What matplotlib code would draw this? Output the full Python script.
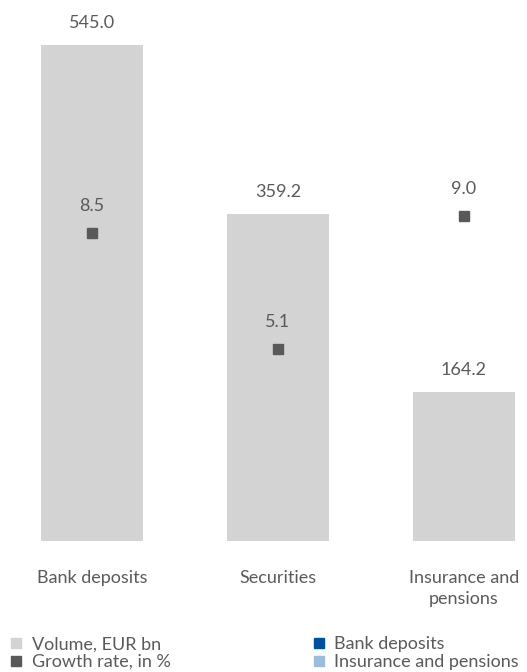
import matplotlib.pyplot as plt
from matplotlib.lines import Line2D

plt.rcParams['font.family'] = ['Lato', 'DejaVu Sans']

categories = ["Bank deposits", "Securities", "Insurance and\npensions"]
volume = [545.0, 359.2, 164.2]
growth = [8.5, 5.1, 9.0]

BAR_COLOR = '#d3d3d3'
MARK_COLOR = '#595959'
TEXT_COLOR = '#5a5a5a'

fig = plt.figure(figsize=(5.27, 6.72), dpi=100)
ax = fig.add_axes([0, 0.195, 1, 0.738])
x = range(len(categories))
ax.bar(x, volume, width=0.55, color=BAR_COLOR)
ax.set_xlim(-0.495, 2.339)
ax.set_ylim(0, 545)
for i, v in zip(x, volume):
    ax.annotate(f"{v:.1f}", (i, v), xytext=(0, 10), textcoords='offset points',
                ha='center', va='bottom', fontsize=13, color=TEXT_COLOR)
for s in ax.spines.values():
    s.set_visible(False)
ax.set_yticks([])
ax.set_xticks(list(x))
ax.set_xticklabels(categories, fontsize=13, color=TEXT_COLOR, linespacing=1.35)
ax.tick_params(axis='x', length=0, pad=21)

ax2 = ax.twinx()
ax2.set_ylim(-0.5, 14.0)
ax2.plot(list(x), growth, 's', color=MARK_COLOR, markersize=6.5, linestyle='none')
for i, g in zip(x, growth):
    ax2.annotate(f"{g:.1f}", (i, g), xytext=(0, 14), textcoords='offset points',
                 ha='center', va='bottom', fontsize=13, color=TEXT_COLOR)
for s in ax2.spines.values():
    s.set_visible(False)
ax2.set_yticks([])

def sq(c):
    return Line2D([], [], marker='s', color=c, linestyle='none', markersize=7)

# fig.legend registers each legend on the figure already
fig.legend([sq(BAR_COLOR), sq(MARK_COLOR)], ["Volume, EUR bn", "Growth rate, in %"],
           loc='upper left', bbox_to_anchor=(0.0, 0.064), frameon=False,
           fontsize=13, labelcolor=TEXT_COLOR,
           handlelength=1.0, handletextpad=0.35, labelspacing=0.1, borderaxespad=0)
fig.legend([sq('#00509e'), sq('#9bbcdc')], ["Bank deposits", "Insurance and pensions"],
           loc='upper left', bbox_to_anchor=(0.574, 0.064), frameon=False,
           fontsize=13, labelcolor=TEXT_COLOR,
           handlelength=1.0, handletextpad=0.35, labelspacing=0.1, borderaxespad=0)

fig.savefig("out.png", dpi=100)
